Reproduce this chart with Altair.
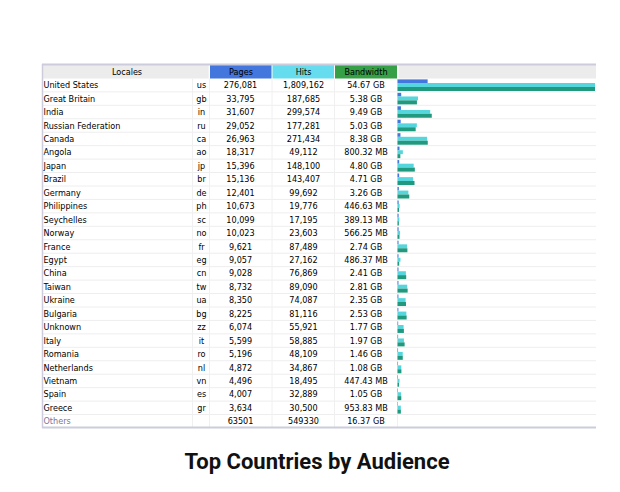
import altair as alt
import pandas as pd

# ---------------- data ----------------
countries = ["United States", "Great Britain", "India", "Russian Federation", "Canada",
             "Angola", "Japan", "Brazil", "Germany", "Philippines", "Seychelles", "Norway",
             "France", "Egypt", "China", "Taiwan", "Ukraine", "Bulgaria", "Unknown", "Italy",
             "Romania", "Netherlands", "Vietnam", "Spain", "Greece"]
codes = ["us", "gb", "in", "ru", "ca", "ao", "jp", "br", "de", "ph", "sc", "no", "fr",
         "eg", "cn", "tw", "ua", "bg", "zz", "it", "ro", "nl", "vn", "es", "gr"]
pages = [276081, 33795, 31607, 29052, 26963, 18317, 15396, 15136, 12401, 10673, 10099,
         10023, 9621, 9057, 9028, 8732, 8350, 8225, 6074, 5599, 5196, 4872, 4496, 4007, 3634]
hits = [1809162, 187685, 299574, 177281, 271434, 49112, 148100, 143407, 99692, 19776,
        17195, 23603, 87489, 27162, 76869, 89090, 74087, 81116, 55921, 58885, 48109,
        34867, 18495, 32889, 30500]
bandwidth = ["54.67 GB", "5.38 GB", "9.49 GB", "5.03 GB", "8.38 GB", "800.32 MB",
             "4.80 GB", "4.71 GB", "3.26 GB", "446.63 MB", "389.13 MB", "566.25 MB",
             "2.74 GB", "486.37 MB", "2.41 GB", "2.81 GB", "2.35 GB", "2.53 GB", "1.77 GB",
             "1.97 GB", "1.46 GB", "1.08 GB", "447.43 MB", "1.05 GB", "953.83 MB"]
others_label = "Others"
others_pages = 63501
others_hits = 549330
others_bandwidth = "16.37 GB"

headers = ["Locales", "Pages", "Hits", "Bandwidth"]
title_text = "Top Countries by Audience"


def to_gb(s):
    v, unit = s.split()
    v = float(v)
    return v / 1024 if unit == "MB" else v


n = len(countries)
df = pd.DataFrame({
    "idx": list(range(n + 1)),
    "country": countries + [others_label],
    "code": codes + [""],
    "pages": pages + [others_pages],
    "hits": hits + [others_hits],
    "pages_lbl": [f"{v:,}" for v in pages] + [str(others_pages)],
    "hits_lbl": [f"{v:,}" for v in hits] + [str(others_hits)],
    "bw_lbl": bandwidth + [others_bandwidth],
    "bw_gb": [to_gb(s) for s in bandwidth] + [to_gb(others_bandwidth)],
    "others": [False] * n + [True],
})
main = df[~df["others"]]

# ---------------- styling ----------------
FONT = "DejaVu Sans Condensed, DejaVu Sans"
FS = 9
yscale = alt.Scale(domain=[-1, n + 1], range=[57, 420], nice=False, zero=False)
BAR_X0, BAR_X1 = 389.5, 587.0
xscale = alt.Scale(domain=[0, 1], range=[BAR_X0, BAR_X1], nice=False, zero=False)

one = pd.DataFrame({"idx": [-1], "idx_end": [0]})


def header_bg(x0, x1, color):
    return alt.Chart(one).mark_rect(color=color).encode(
        x=alt.value(x0), x2=alt.value(x1),
        y=alt.Y("idx:Q", scale=yscale, axis=None), y2="idx_end:Q")


def header_text(label, xc):
    return alt.Chart(pd.DataFrame({"idx": [-1], "t": [label]})).transform_calculate(
        yc="datum.idx + 0.5").mark_text(font=FONT, fontSize=FS, color="#000000",
                                       align="center", baseline="middle").encode(
        x=alt.value(xc), y=alt.Y("yc:Q", scale=yscale, axis=None), text="t:N")


def col_text(data, field, xc, align="center", color="#000000"):
    return alt.Chart(data).transform_calculate(yc="datum.idx + 0.5").mark_text(
        font=FONT, fontSize=FS, color=color, align=align, baseline="middle").encode(
        x=alt.value(xc), y=alt.Y("yc:Q", scale=yscale, axis=None), text=f"{field}:N")


layers = []
# header backgrounds
layers += [
    header_bg(35, 200.7, "#ececec"),
    header_bg(202, 263.5, "#4477dd"),
    header_bg(264.5, 326, "#66ddee"),
    header_bg(327, 389, "#36a047"),
    header_bg(390.5, 588, "#ececec"),
]
# header labels
layers += [
    header_text(headers[0], 119),
    header_text(headers[1], 233),
    header_text(headers[2], 295.5),
    header_text(headers[3], 358),
]

# row separators
layers.append(
    alt.Chart(df[df["idx"] > 0]).mark_rule(color="#eeeeee", strokeWidth=1).encode(
        x=alt.value(35), x2=alt.value(588),
        y=alt.Y("idx:Q", scale=yscale, axis=None)))

# vertical cell separators
vsep = pd.DataFrame({"a": [0]})
for xv in [184.5, 201.5, 264, 326.5, 389.5]:
    layers.append(alt.Chart(vsep).mark_rule(color="#f0f0f0", strokeWidth=1).encode(
        x=alt.value(xv), y=alt.value(70.5), y2=alt.value(419)))

# text columns
layers += [
    col_text(main, "country", 35.5, align="left"),
    col_text(df[df["others"]], "country", 35.5, align="left", color="#7777a0"),
    col_text(main, "code", 193.5),
    col_text(df, "pages_lbl", 232.5),
    col_text(df, "hits_lbl", 295.5),
    col_text(df, "bw_lbl", 358),
]

# bars
base_bar = alt.Chart(main).transform_joinaggregate(
    max_hits="max(hits)", max_bw="max(bw_gb)")
bar_specs = [
    ("datum.pages / datum.max_hits", 0.07, 0.34, "#4477dd"),
    ("datum.hits / datum.max_hits", 0.34, 0.63, "#55d6dc"),
    ("datum.bw_gb / datum.max_bw", 0.63, 0.93, "#21997f"),
]
for expr, o0, o1, col in bar_specs:
    layers.append(
        base_bar.transform_calculate(
            frac=expr, y0=f"datum.idx + {o0}", y1=f"datum.idx + {o1}"
        ).mark_rect(color=col).encode(
            x=alt.X("frac:Q", scale=xscale, axis=None), x2=alt.value(BAR_X0),
            y=alt.Y("y0:Q", scale=yscale, axis=None), y2="y1:Q"))

# table frame (top, left, bottom)
frame = pd.DataFrame({"a": [0]})
layers += [
    alt.Chart(frame).mark_rule(color="#ccccdd", strokeWidth=2).encode(
        x=alt.value(34), x2=alt.value(588), y=alt.value(56.5)),
    alt.Chart(frame).mark_rule(color="#ccccdd", strokeWidth=2).encode(
        x=alt.value(34), x2=alt.value(588), y=alt.value(419.5)),
    alt.Chart(frame).mark_rule(color="#ccccdd", strokeWidth=1.5).encode(
        x=alt.value(34.5), y=alt.value(56), y2=alt.value(420)),
]

# title
layers.append(
    alt.Chart(pd.DataFrame({"t": [title_text]})).mark_text(
        font="Roboto", fontSize=22, fontWeight="bold", color="#111111",
        align="center", baseline="alphabetic").encode(
        x=alt.value(309), y=alt.value(461), text="t:N"))

chart = alt.layer(*layers).properties(
    width=604, height=476, padding=0,
    autosize=alt.AutoSizeParams(type="none"),
    background="#ffffff",
).configure_view(stroke=None)

chart.save("out.html", embed_options={"renderer": "svg", "actions": False})
